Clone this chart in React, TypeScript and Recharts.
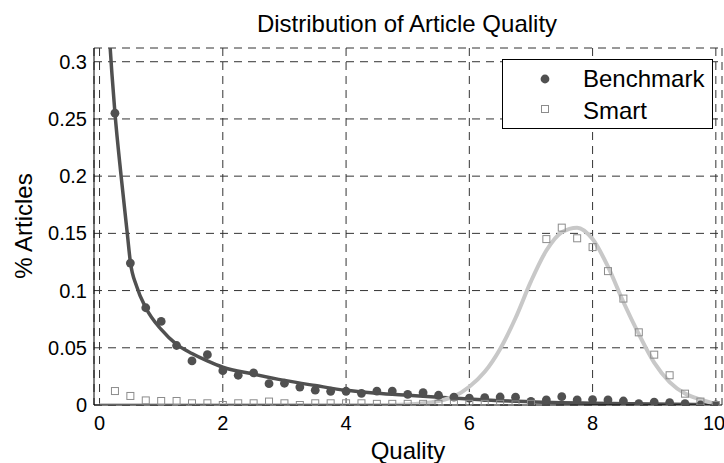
import {
  ComposedChart, Line, Scatter, XAxis, YAxis, CartesianGrid, Legend,
} from 'recharts';

// sample points (quality, share of articles)
const benchX = [
  0.25, 0.5, 0.75, 1.0, 1.25, 1.5, 1.75, 2.0, 2.25, 2.5, 2.75, 3.0, 3.25, 3.5, 3.75, 4.0,
  4.25, 4.5, 4.75, 5.0, 5.25, 5.5, 5.75, 6.0, 6.25, 6.5, 6.75, 7.0, 7.25, 7.5, 7.75, 8.0,
  8.25, 8.5, 8.75, 9.0, 9.25, 9.5, 9.75, 10.0,
];
const benchY = [
  0.255, 0.124, 0.085, 0.073, 0.052, 0.0385, 0.044, 0.030, 0.026, 0.028, 0.0186, 0.019, 0.0157, 0.013, 0.012, 0.012,
  0.0102, 0.0122, 0.0122, 0.0093, 0.0108, 0.0085, 0.0068, 0.006, 0.0064, 0.007, 0.0068, 0.0032, 0.0044, 0.0073, 0.0044, 0.0047,
  0.0044, 0.0035, 0.0012, 0.0026, 0.002, 0.0012, 0.0, 0.0,
];
const smartY = [
  0.0122, 0.0079, 0.004, 0.0035, 0.0035, 0.0015, 0.0015, 0.0, 0.0015, 0.0015, 0.003, 0.0015, 0.0, 0.0015, 0.0015, 0.0015,
  0.0015, 0.001, 0.001, 0.001, 0.001, 0.001, 0.001, 0.001, 0.001, 0.001, 0.0005, 0.001, 0.145, 0.155, 0.1457, 0.138,
  0.117, 0.093, 0.0635, 0.044, 0.026, 0.0099, 0.003, 0.0,
];

// fitted curves
const benchFitX = [0.15, 0.2, 0.25, 0.35, 0.45, 0.5, 0.6, 0.75, 1.0, 1.25, 1.5, 1.75, 2.0, 2.5, 3.0, 3.5, 4.0, 4.5, 5.0, 5.5, 6.0, 6.5, 7.0, 7.5, 8.0, 9.0, 10.0];
const benchFitY = [0.33, 0.29, 0.255, 0.2, 0.15, 0.125, 0.104, 0.085, 0.066, 0.053, 0.045, 0.0385, 0.033, 0.027, 0.0215, 0.017, 0.0128, 0.0103, 0.0085, 0.0068, 0.0052, 0.0038, 0.0028, 0.002, 0.0015, 0.0008, 0.0003];
const smartFitX = [0, 4.5, 5.0, 5.25, 5.5, 5.75, 6.0, 6.25, 6.5, 6.75, 7.0, 7.25, 7.5, 7.75, 8.0, 8.25, 8.5, 8.75, 9.0, 9.25, 9.5, 9.75, 10.0];
const smartFitY = [0, 0, 0.0005, 0.0015, 0.0035, 0.0075, 0.016, 0.029, 0.049, 0.076, 0.108, 0.135, 0.151, 0.155, 0.145, 0.121, 0.09, 0.062, 0.037, 0.02, 0.01, 0.0048, 0.0008];

const xTicks = [0, 2, 4, 6, 8, 10];
const yTicks = [0, 0.05, 0.1, 0.15, 0.2, 0.25, 0.3];

const benchPts = benchX.map((x, i) => ({ x, y: benchY[i] }));
const smartPts = benchX.map((x, i) => ({ x, y: smartY[i] }));
const benchFit = benchFitX.map((x, i) => ({ x, y: benchFitY[i] }));
const smartFit = smartFitX.map((x, i) => ({ x, y: smartFitY[i] }));

const FONT = 'Arial, "Liberation Sans", Helvetica, sans-serif';
const DARK = '#505050';
const LIGHT = '#c8c8c8';
const SQ = '#8c8c8c';

function LegendBox() {
  return (
    <svg width={212} height={71} style={{ display: 'block' }}>
      <rect x={0.5} y={0.5} width={210} height={69} fill="#fff" stroke="#000" />
      <circle cx={43} cy={20} r={4.4} fill={DARK} />
      <text x={81} y={27.5} fontSize={24} fontFamily={FONT} fill="#000">Benchmark</text>
      <rect x={39.5} y={46.5} width={7} height={7} fill="none" stroke={SQ} />
      <text x={81} y={60} fontSize={24} fontFamily={FONT} fill="#000">Smart</text>
    </svg>
  );
}

export default function App() {
  const tick = { fontSize: 20, fill: '#000', fontFamily: FONT };
  return (
    <div style={{ position: 'absolute', left: 0, top: 0, width: 724, height: 463, background: '#fff' }}>
      <svg width={724} height={40} style={{ position: 'absolute', left: 0, top: 0 }}>
        <text x={407} y={31.5} textAnchor="middle" fontSize={24} fontFamily={FONT} fill="#000">
          Distribution of Article Quality
        </text>
      </svg>
      <ComposedChart width={724} height={463} margin={{ top: 48, right: 2, bottom: 0, left: 0 }}>
        <CartesianGrid stroke="#333" strokeDasharray="8 6" />
        <XAxis
          dataKey="x" type="number" domain={[-0.09, 10.1]} ticks={xTicks} allowDataOverflow
          height={58} tick={tick} tickLine={false} tickSize={6} tickMargin={5}
          axisLine={{ stroke: '#000' }}
          label={{
            content: () => (
              <text x={408} y={459} textAnchor="middle" fontSize={24} fontFamily={FONT} fill="#000">Quality</text>
            ),
          }}
        />
        <XAxis xAxisId="top" orientation="top" type="number" domain={[-0.09, 10.1]} height={0} tick={false} tickLine={false} axisLine={{ stroke: '#000' }} />
        <YAxis
          type="number" domain={[0, 0.312]} ticks={yTicks} allowDataOverflow
          width={94} tick={tick} tickLine={false} tickSize={5} tickMargin={2}
          axisLine={{ stroke: '#000' }}
          label={{
            content: () => (
              <text x={0} y={0} transform="translate(32 226) rotate(-90)" textAnchor="middle" fontSize={24} fontFamily={FONT} fill="#000">% Articles</text>
            ),
          }}
        />
        <YAxis yAxisId="right" orientation="right" type="number" domain={[0, 0.312]} width={0} tick={false} tickLine={false} axisLine={{ stroke: '#000' }} />
        <Scatter
          name="Benchmark" data={benchPts} dataKey="y" isAnimationActive={false}
          shape={(p: any) => <circle cx={p.cx} cy={p.cy} r={4.4} fill={DARK} />}
        />
        <Line data={benchFit} dataKey="y" type="monotone" stroke={DARK} strokeWidth={3.5} dot={false} isAnimationActive={false} legendType="none" />
        <Line data={smartFit} dataKey="y" type="monotone" stroke={LIGHT} strokeWidth={4} dot={false} isAnimationActive={false} legendType="none" />
        <Scatter
          name="Smart" data={smartPts} dataKey="y" isAnimationActive={false}
          shape={(p: any) => <rect x={p.cx - 3.5} y={p.cy - 3.5} width={7} height={7} fill="none" stroke={SQ} />}
        />
        <Legend
          layout="horizontal" verticalAlign="middle" align="center"
          wrapperStyle={{ left: 502, top: 59, width: 212, height: 71 }}
          content={() => <LegendBox />}
        />
      </ComposedChart>
    </div>
  );
}
